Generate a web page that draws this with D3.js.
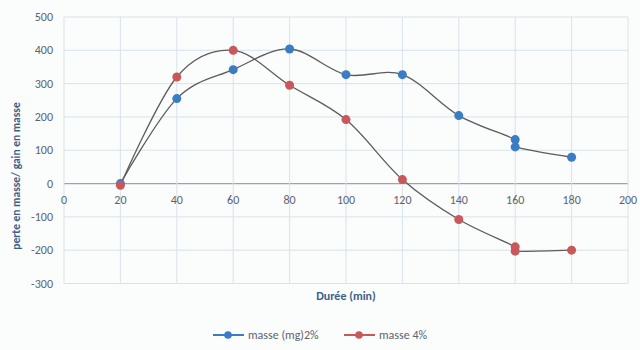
<!DOCTYPE html>
<html><head><meta charset="utf-8">
<script src="https://cdn.jsdelivr.net/npm/d3@7"></script>
<style>body{margin:0;background:#fff}svg{display:block;font-family:Calibri,"Liberation Sans",Carlito,sans-serif}</style>
</head><body><svg id="c" width="640" height="350"></svg>
<script>
const durations2 = [20, 40, 60, 80, 100, 120, 140, 160, 160, 180];
const masse2 = [0, 255, 342, 404, 327, 327, 204, 132, 110, 79];
const durations4 = [20, 40, 60, 80, 100, 120, 140, 160, 160, 180];
const masse4 = [-5, 320, 400, 295, 192, 12, -108, -190, -203, -200];
const seriesNames = ["masse (mg)2%", "masse 4%"];
const xTicks = [0, 20, 40, 60, 80, 100, 120, 140, 160, 180, 200];
const yTicks = [-300, -200, -100, 0, 100, 200, 300, 400, 500];

const svg = d3.select("#c");
svg.append("rect").attr("width",640).attr("height",350).attr("fill","#fbfcfc");
const x = d3.scaleLinear().domain([0,200]).range([64,628]);
const y = d3.scaleLinear().domain([-300,500]).range([283.5,17]);

const grid = "#d8e3ea";
svg.append("g").selectAll("line").data(yTicks).join("line")
  .attr("x1",x(0)).attr("x2",x(200)).attr("y1",d=>y(d)).attr("y2",d=>y(d))
  .attr("stroke",d=>d===0?"#9aa4aa":grid).attr("stroke-width",d=>d===0?1.3:1);
svg.append("g").selectAll("line").data(xTicks).join("line")
  .attr("x1",d=>x(d)).attr("x2",d=>x(d)).attr("y1",y(500)).attr("y2",y(-300))
  .attr("stroke",grid);

// y tick labels
svg.append("g").selectAll("text").data(yTicks).join("text")
  .attr("x",53).attr("y",d=>y(d)+4).attr("text-anchor","end")
  .attr("font-size",12).attr("fill","#5a6470").text(d=>d);
// x tick labels
svg.append("g").selectAll("text").data(xTicks).join("text")
  .attr("x",d=>x(d)).attr("y",y(0)+20).attr("text-anchor","middle")
  .attr("font-size",12).attr("fill","#5a6470").text(d=>d);

svg.append("text").attr("transform","translate(20,176) rotate(-90)")
  .attr("text-anchor","middle").attr("font-size",11.5).attr("font-weight","bold")
  .attr("fill","#3b5f8a").text("perte en masse/ gain en masse");
svg.append("text").attr("x",346).attr("y",300).attr("text-anchor","middle")
  .attr("font-size",12).attr("font-weight","bold").attr("fill","#3b5f8a").text("Durée (min)");

const line = d3.line().x(d=>x(d[0])).y(d=>y(d[1])).curve(d3.curveCatmullRom.alpha(0));
const series = [
  {pts: durations2.map((d,i)=>[d,masse2[i]]), color:"#3a7dc4"},
  {pts: durations4.map((d,i)=>[d,masse4[i]]), color:"#c9585a"}
];
series.forEach(s=>{
  svg.append("path").attr("d",line(s.pts)).attr("fill","none")
    .attr("stroke","#5f5b5b").attr("stroke-width",1.3);
});
series.forEach(s=>{
  svg.append("g").selectAll("circle").data(s.pts).join("circle")
    .attr("cx",d=>x(d[0])).attr("cy",d=>y(d[1])).attr("r",4.5)
    .attr("fill",s.color);
});

// legend
const lg = [{x:213, s:series[0], n:seriesNames[0]},{x:344, s:series[1], n:seriesNames[1]}];
lg.forEach(l=>{
  svg.append("line").attr("x1",l.x).attr("x2",l.x+31).attr("y1",335).attr("y2",335)
    .attr("stroke",l.s.color).attr("stroke-width",2);
  svg.append("circle").attr("cx",l.x+15).attr("cy",335).attr("r",3.8).attr("fill",l.s.color);
  svg.append("text").attr("x",l.x+35).attr("y",339).attr("font-size",12)
    .attr("fill","#5a6470").text(l.n);
});
</script></body></html>
